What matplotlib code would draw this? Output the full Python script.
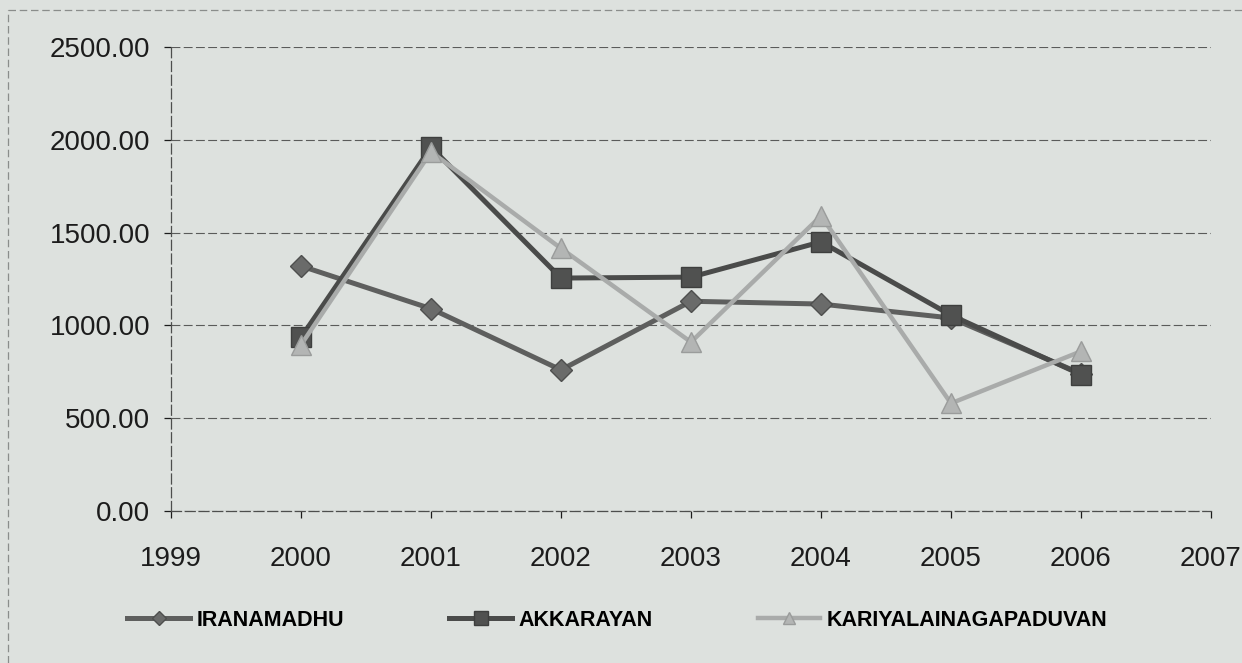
import numpy as np
import matplotlib.pyplot as plt
from matplotlib.lines import Line2D

# data
years = [2000, 2001, 2002, 2003, 2004, 2005, 2006]
iranamadhu = [1320, 1090, 760, 1130, 1115, 1040, 740]
akkarayan = [935, 1960, 1255, 1260, 1450, 1055, 735]
kariyal = [895, 1935, 1415, 910, 1590, 580, 860]

x_ticks = list(range(1999, 2008))
y_ticks = [0, 500, 1000, 1500, 2000, 2500]

plt.rcParams['font.family'] = ['Liberation Sans', 'DejaVu Sans']
bg = '#dde1de'

fig = plt.figure(figsize=(12.42, 6.63), dpi=100, facecolor=bg)
ax = fig.add_axes([0.1377, 0.2293, 0.8373, 0.6998])
ax.set_facecolor(bg)

# outer chart border (dashed, faint)
fig.add_artist(Line2D([8/1242, 8/1242], [0, 1 - 10/663], transform=fig.transFigure,
                      color='#8a8d8b', lw=0.9, ls=(0, (6, 3))))
fig.add_artist(Line2D([8/1242, 1], [1 - 10/663, 1 - 10/663], transform=fig.transFigure,
                      color='#8a8d8b', lw=0.9, ls=(0, (6, 3))))

ax.plot(years, iranamadhu, color='#5e5f5e', lw=3.6, marker='D', markersize=11,
        markerfacecolor='#6a6b6a', markeredgecolor='#4e4f4e', label='IRANAMADHU', zorder=3)
ax.plot(years, akkarayan, color='#4a4b4a', lw=3.6, marker='s', markersize=15,
        markerfacecolor='#505150', markeredgecolor='#3e3f3e', label='AKKARAYAN', zorder=4)
ax.plot(years, kariyal, color='#a9abaa', lw=3.2, marker='^', markersize=14,
        markerfacecolor='#b3b5b4', markeredgecolor='#9a9c9b', label='KARIYALAINAGAPADUVAN', zorder=5)

ax.set_xlim(1999, 2007)
ax.set_ylim(0, 2500)
ax.set_xticks(x_ticks)
ax.set_xticklabels([str(y) for y in x_ticks])
ax.set_yticks(y_ticks)
ax.set_yticklabels(['%.2f' % v for v in y_ticks])

ax.grid(axis='y', color='#5a5b5a', lw=0.8, ls=(0, (8, 3)))
for s in ['top', 'right']:
    ax.spines[s].set_visible(False)
for s in ['left', 'bottom']:
    ax.spines[s].set_linestyle((0, (8, 3)))
    ax.spines[s].set_color('#4d4e4d')
    ax.spines[s].set_linewidth(0.9)

ax.tick_params(axis='both', labelsize=20, colors='#1c1c1c', width=0.9, length=5)
ax.tick_params(axis='y', pad=10)
ax.tick_params(axis='x', pad=20)

fig.legend(loc='center left', bbox_to_anchor=(108/1242, 1 - 620/663), ncol=3,
           frameon=False, prop={'size': 15.5, 'weight': 'bold'},
           handlelength=2.9, handletextpad=0.3, columnspacing=4.9, markerscale=0.65)

fig.savefig('out.png', dpi=100, facecolor=bg)
